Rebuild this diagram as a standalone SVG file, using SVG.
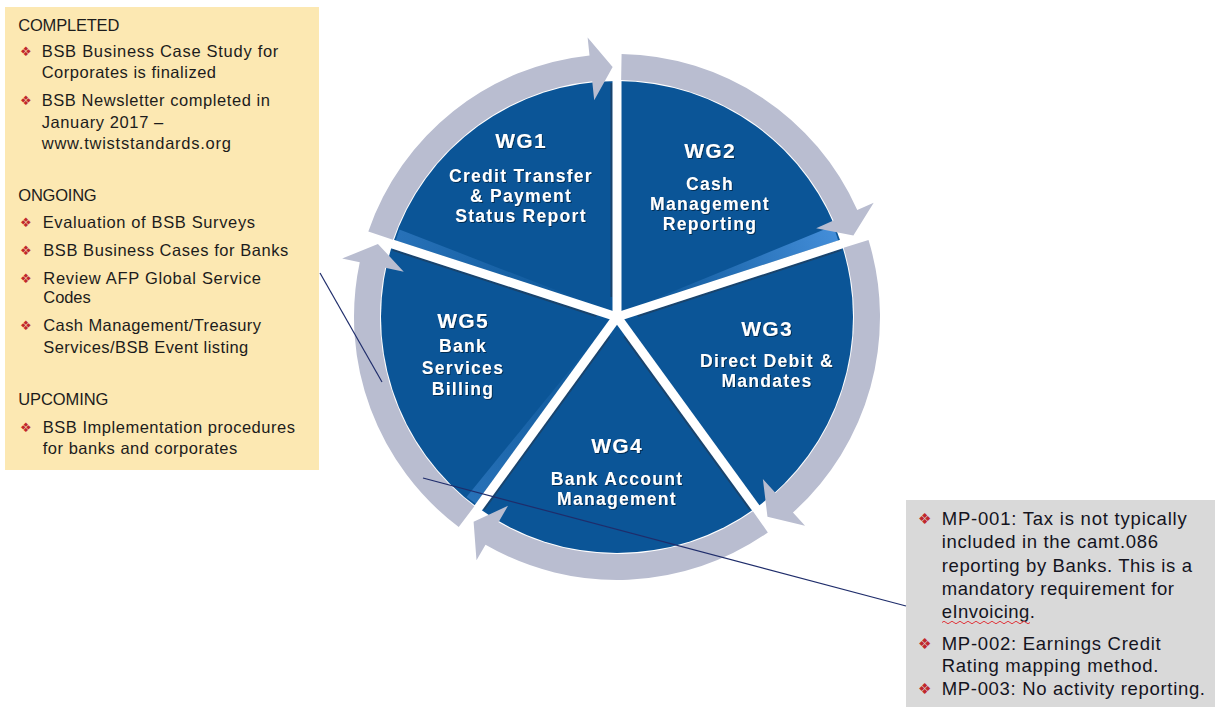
<svg xmlns="http://www.w3.org/2000/svg" width="1215" height="707" viewBox="0 0 1215 707">
<style>
.sector{fill:#0b5597}
.ring{fill:#b9bdd0}
.wg{font-family:"Liberation Sans",Arial,sans-serif;font-weight:700;fill:#fff;text-anchor:middle;font-size:17.5px;letter-spacing:1.3px;filter:url(#ts)}
.wgt{font-size:21px}
.lt{font-family:"Liberation Sans",Arial,sans-serif;font-size:16.5px;fill:#1c1c1c}
.rt{font-family:"Liberation Sans",Arial,sans-serif;font-size:18.5px;fill:#14141e}
.bul{font-family:"DejaVu Sans",sans-serif;fill:#c0282d;font-size:13px}
.bulr{font-family:"DejaVu Sans",sans-serif;fill:#c0282d;font-size:15px}
.conn{stroke:#1f2d6b;stroke-width:1.2;fill:none}
.gap{stroke:#fff;stroke-width:9;stroke-linecap:butt}
.shd{stroke:#2a3140;stroke-opacity:.5;stroke-width:2}
</style>
<defs>
<filter id="ts" x="-10%" y="-30%" width="120%" height="160%">
<feDropShadow dx="1" dy="1" stdDeviation="0.6" flood-color="#001a33" flood-opacity="0.7"/>
</filter>
<linearGradient id="bv2" gradientUnits="userSpaceOnUse" x1="642" y1="304" x2="836" y2="233">
<stop offset="0" stop-color="#4a94e0" stop-opacity="0"/>
<stop offset="1" stop-color="#4a94e0" stop-opacity="0.9"/>
</linearGradient>
<linearGradient id="bv1" gradientUnits="userSpaceOnUse" x1="592" y1="304" x2="397" y2="235">
<stop offset="0" stop-color="#4a94e0" stop-opacity="0"/>
<stop offset="1" stop-color="#4a94e0" stop-opacity="0.45"/>
</linearGradient>
<linearGradient id="bv5" gradientUnits="userSpaceOnUse" x1="597" y1="337" x2="471" y2="500">
<stop offset="0" stop-color="#4a94e0" stop-opacity="0"/>
<stop offset="1" stop-color="#4a94e0" stop-opacity="0.45"/>
</linearGradient>
</defs>
<rect width="1215" height="707" fill="#fff"/>

<g id="status-box">
<rect x="5" y="7" width="314" height="463" fill="#fce8b2"/>
<text class="lt" x="18.3" y="30.5" textLength="101" lengthAdjust="spacing">COMPLETED</text>
<text class="bul" x="20" y="56">❖</text>
<text class="lt" x="41.7" y="57" textLength="236.6" lengthAdjust="spacing">BSB Business Case Study for</text>
<text class="lt" x="41.7" y="78" textLength="174.3" lengthAdjust="spacing">Corporates is finalized</text>
<text class="bul" x="20" y="104.5">❖</text>
<text class="lt" x="41.7" y="105.5" textLength="228.3" lengthAdjust="spacing">BSB Newsletter completed in</text>
<text class="lt" x="41.7" y="127.5" textLength="121.6" lengthAdjust="spacing">January 2017 –</text>
<text class="lt" x="41.7" y="149" textLength="189.3" lengthAdjust="spacing">www.twiststandards.org</text>
<text class="lt" x="18.3" y="201" textLength="78.4" lengthAdjust="spacing">ONGOING</text>
<text class="bul" x="20" y="226.5">❖</text>
<text class="lt" x="42.7" y="227.5" textLength="212.3" lengthAdjust="spacing">Evaluation  of BSB Surveys</text>
<text class="bul" x="20" y="255">❖</text>
<text class="lt" x="43.3" y="256" textLength="245" lengthAdjust="spacing">BSB Business Cases for Banks</text>
<text class="bul" x="20" y="282.5">❖</text>
<text class="lt" x="43.3" y="283.5" textLength="217.7" lengthAdjust="spacing">Review AFP Global Service</text>
<text class="lt" x="43.3" y="303" textLength="47.4" lengthAdjust="spacing">Codes</text>
<text class="bul" x="20" y="330">❖</text>
<text class="lt" x="43.3" y="331" textLength="217.7" lengthAdjust="spacing">Cash Management/Treasury</text>
<text class="lt" x="43.3" y="352.5" textLength="205" lengthAdjust="spacing">Services/BSB Event listing</text>
<text class="lt" x="18.3" y="405" textLength="90" lengthAdjust="spacing">UPCOMING</text>
<text class="bul" x="20" y="432">❖</text>
<text class="lt" x="42.7" y="433" textLength="252.3" lengthAdjust="spacing">BSB Implementation  procedures</text>
<text class="lt" x="42.7" y="453.5" textLength="194.6" lengthAdjust="spacing">for banks and corporates</text>
</g>

<g id="wg1">
<path class="sector" d="M617,317 L392.55,244.07 A236,236 0 0 1 617,81 Z"/>
<polygon points="591.8,304.1 395.8,240.4 399.4,229.5" fill="url(#bv1)"/>
<path class="ring" d="M368.33,231.38 A263,263 0 0 1 589.51,55.44 L587.63,37.54 L612.64,67.04 L594.21,100.19 L592.23,81.3 A237,237 0 0 0 392.91,239.84 Z"/>
<text class="wg wgt" x="521" y="148">WG1</text>
<text class="wg" x="521" y="181.5">Credit Transfer</text>
<text class="wg" x="521" y="201.5">&amp; Payment</text>
<text class="wg" x="521" y="221.5">Status Report</text>
</g>

<g id="wg2">
<path class="sector" d="M617,317 L617,81 A236,236 0 0 1 841.45,244.07 Z"/>
<polygon points="642.2,304.1 838.2,240.4 833.4,225.7" fill="url(#bv2)"/>
<path class="ring" d="M621.59,54.04 A263,263 0 0 1 857.26,210.03 L873.71,202.71 L853.38,235.61 L816.15,228.33 L833.51,220.6 A237,237 0 0 0 621.14,80.04 Z"/>
<text class="wg wgt" x="710" y="158">WG2</text>
<text class="wg" x="710" y="189.5">Cash</text>
<text class="wg" x="710" y="209.5">Management</text>
<text class="wg" x="710" y="229.5">Reporting</text>
</g>

<g id="wg3">
<path class="sector" d="M617,317 L841.45,244.07 A236,236 0 0 1 755.72,507.93 Z"/>
<path class="ring" d="M868.51,240.11 A263,263 0 0 1 792.98,512.45 L805.03,525.82 L767.46,516.66 L762.87,479 L775.58,493.12 A237,237 0 0 0 843.64,247.71 Z"/>
<text class="wg wgt" x="767" y="336">WG3</text>
<text class="wg" x="767" y="366.5">Direct Debit &amp;</text>
<text class="wg" x="767" y="387">Mandates</text>
</g>

<g id="wg4">
<path class="sector" d="M617,317 L755.72,507.93 A236,236 0 0 1 478.28,507.93 Z"/>
<path class="ring" d="M767.85,532.44 A263,263 0 0 1 485.5,544.77 L476.5,560.35 L473.6,521.79 L508,505.79 L498.5,522.25 A237,237 0 0 0 752.94,511.14 Z"/>
<text class="wg wgt" x="617" y="453">WG4</text>
<text class="wg" x="617" y="485">Bank Account</text>
<text class="wg" x="617" y="505">Management</text>
</g>

<g id="wg5">
<path class="sector" d="M617,317 L478.28,507.93 A236,236 0 0 1 392.55,244.07 Z"/>
<polygon points="596.9,337 475.8,503.7 466.5,496.9" fill="url(#bv5)"/>
<path class="ring" d="M458.72,527.04 A263,263 0 0 1 359.75,262.32 L342.14,258.58 L377.92,243.91 L403.76,271.68 L385.18,267.73 A237,237 0 0 0 474.37,506.28 Z"/>
<text class="wg wgt" x="463" y="328">WG5</text>
<text class="wg" x="463" y="351.5">Bank</text>
<text class="wg" x="463" y="374">Services</text>
<text class="wg" x="463" y="395">Billing</text>
</g>

<g id="dividers">
<line class="shd" x1="611.5" y1="297" x2="611.5" y2="83"/>
<line class="shd" x1="637.7" y1="316.05" x2="841.3" y2="249.9"/>
<line class="shd" x1="624.3" y1="336.4" x2="750.1" y2="509.5"/>
<line class="shd" x1="609.7" y1="336.4" x2="483.9" y2="509.5"/>
<line class="shd" x1="596.3" y1="316.05" x2="392.7" y2="249.9"/>
<line class="gap" x1="617" y1="317" x2="617" y2="80"/>
<line class="gap" x1="617" y1="317" x2="842.4" y2="243.8"/>
<line class="gap" x1="617" y1="317" x2="756.3" y2="508.7"/>
<line class="gap" x1="617" y1="317" x2="477.7" y2="508.7"/>
<line class="gap" x1="617" y1="317" x2="391.6" y2="243.8"/>
</g>

<g id="issues-box">
<rect x="906" y="500" width="309" height="207" fill="#d9d9d9"/>
<text class="bulr" x="918" y="524">❖</text>
<text class="rt" x="941.7" y="525" textLength="245" lengthAdjust="spacing">MP-001: Tax is not typically</text>
<text class="rt" x="941.7" y="548.3" textLength="216.3" lengthAdjust="spacing">included in the camt.086</text>
<text class="rt" x="941.7" y="571.7" textLength="250.3" lengthAdjust="spacing">reporting by Banks. This is a</text>
<text class="rt" x="941.7" y="595" textLength="232.3" lengthAdjust="spacing">mandatory requirement for</text>
<text class="rt" x="941.7" y="618.3" textLength="93.3" lengthAdjust="spacing">eInvoicing.</text>
<path d="M942,622.5 q2,-2.5 4,0 t4,0 t4,0 t4,0 t4,0 t4,0 t4,0 t4,0 t4,0 t4,0 t4,0 t4,0 t4,0 t4,0 t4,0 t4,0 t4,0 t4,0 t4,0 t4,0 t4,0 t4,0" fill="none" stroke="#e0383e" stroke-width="1"/>
<text class="bulr" x="918" y="649">❖</text>
<text class="rt" x="941.7" y="650" textLength="219" lengthAdjust="spacing">MP-002: Earnings Credit</text>
<text class="rt" x="941.7" y="671.7" textLength="216.6" lengthAdjust="spacing">Rating mapping method.</text>
<text class="bulr" x="918" y="694">❖</text>
<text class="rt" x="941.7" y="695" textLength="263.3" lengthAdjust="spacing">MP-003: No activity reporting.</text>
</g>

<g id="connectors">
<line class="conn" x1="320" y1="273" x2="382" y2="382"/>
<line class="conn" x1="423" y1="478" x2="906" y2="606"/>
</g>
</svg>
